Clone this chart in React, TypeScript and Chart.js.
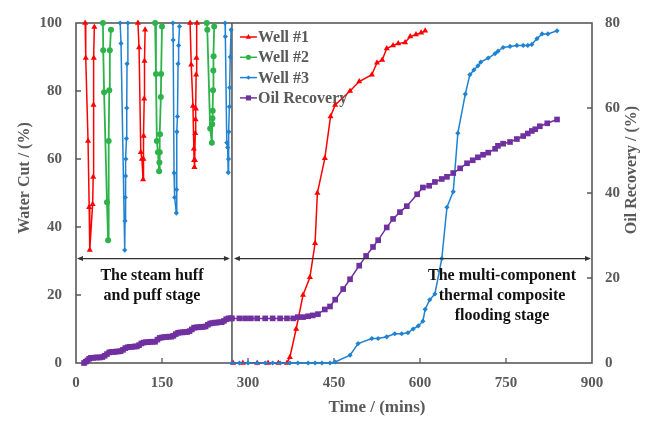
import React, { useEffect, useRef } from 'react';
import { Chart, registerables } from 'chart.js';

Chart.register(...registerables);

// ---- axis ticks ----
const timeTicks = [0, 150, 300, 450, 600, 750, 900];
const waterCutTicks = [0, 20, 40, 60, 80, 100];
const recoveryTicks = [0, 20, 40, 60, 80];

// ---- stage annotations ----
const stageBoundary = 272; // mins
const arrowLevel = 30.7; // water cut %
const stage1Lines = ['The steam huff', 'and puff stage'];
const stage2Lines = ['The multi-component', 'thermal composite', 'flooding stage'];

// ---- Well #1 (water cut %) ----
const well1Time = [
  16, 17, 21, 23, 24, 29, 30, 30.5, 31, 32,
  70,
  108, 110, 113, 115, 117, 117.5, 118, 119, 119.5, 120.5,
  160,
  199, 201, 204, 205.5, 206, 206.5, 207.5, 208, 208.5, 209, 209.5, 210, 211,
  240,
  274, 291, 316, 335, 353, 368, 373, 384, 396, 408, 417, 421, 434, 444, 452, 478, 494, 516, 525, 534,
  542, 553, 562, 574, 583, 593, 602, 609,
];
const well1Cut = [
  100, 89.7, 65.3, 45.8, 33.2, 46.7, 54.7, 75.9, 89.7, 98.8,
  null,
  100, 92.8, 62, 60, 54, 60, 66.8, 77.7, 88.8, 98,
  null,
  100, 87.7, 75.6, 63, 59.6, 57.6, 59.6, 67.6, 71.6, 74.8, 84.8, 89.7, 100,
  null,
  0, 0, 0, 0, 0, 0, 1.7, 10, 20, 25.2, 35.2, 50, 60.2, 72.5, 75.9, 80, 82.8, 84.8, 88.3, 89.1,
  92.5, 93.4, 94, 94.3, 96, 96.6, 97.1, 97.7,
];

// ---- Well #2 (water cut %) ----
const well2Time = [
  47, 47.5, 49, 54, 56, 57, 58, 59, 61,
  100,
  138, 139.5, 141, 143, 145, 145.5, 146, 146.5, 148, 148.5, 150,
  190,
  228, 229, 234, 237, 237.5, 238, 238.5, 239, 239.5, 240, 241,
];
const well2Cut = [
  100, 92, 79.6, 47.3, 36.1, 65.3, 80.2, 92, 98,
  null,
  100, 85, 65.3, 62, 56.4, 59, 62, 67.3, 78.2, 85, 99,
  null,
  100, 98, 69, 64.8, 70.2, 72, 74.2, 80.2, 86, 90.2, 99,
];

// ---- Well #3 (water cut %) ----
const well3Time = [
  77, 78.5, 85, 85.5, 86, 86.5, 87, 88, 88.5, 89, 90.5,
  130,
  169, 169.5, 171, 172, 175, 175.5, 176, 177, 178, 179, 180.5,
  220,
  260, 260.5, 263, 264.5, 265.5, 266, 266.5, 267.5, 268, 269, 270.5,
  271,
  272, 285, 300, 316, 330, 343, 356, 373, 387, 405, 417, 429, 443, 452, 478, 492, 516, 527, 542, 556,
  568, 579, 588, 597, 605, 609, 617, 626, 638, 647, 658, 666, 679, 687, 694, 701, 706, 719, 731, 736,
  745, 757, 769, 780, 788, 795, 804, 813, 823, 839,
];
const well3Cut = [
  100, 94, 33.2, 41.8, 48.7, 55, 60, 66, 75, 88, 100,
  null,
  100, 95, 55.9, 48.7, 44.1, 51, 68, 72.5, 88, 93.4, 99,
  null,
  100, 96, 64.8, 63.4, 56, 60, 68, 75.4, 81, 90, 98,
  null,
  0, 0, 0, 0, 0, 0, 0, 0, 0, 0, 0, 0, 0, 0.3, 2.3, 5.7, 7.2, 7.2, 7.7, 8.6,
  8.6, 8.9, 10, 10.9, 12.3, 15.8, 18.6, 20.3, 30.7, 45.8, 50.4, 67.6, 79.1, 84.8, 86.2, 87.4, 88.5, 89.7, 91, 91.7,
  92.8, 93.1, 93.4, 93.4, 93.4, 93.7, 95.4, 96.8, 96.8, 97.7,
];

// ---- Oil recovery (%) ----
const recoveryTime = [
  14, 17, 20, 23, 26, 30, 34, 38, 42, 46, 50, 54, 58, 62, 66, 70, 74, 78, 82, 86,
  90, 94, 98, 102, 106, 110, 114, 118, 122, 126, 130, 134, 138, 142, 146, 150, 154, 158, 162, 166,
  170, 174, 178, 182, 186, 190, 194, 198, 202, 206, 210, 214, 218, 222, 226, 230, 234, 238, 242, 246,
  250, 254, 258, 262, 266, 270,
  272, 285, 295, 305, 316, 330, 343, 356, 368, 379, 387, 396, 405, 413, 422, 434, 443, 452, 466, 478,
  494, 506, 518, 527, 542, 553, 565, 577, 595, 605, 616, 626, 638, 647, 658, 670, 682, 692, 701, 710,
  719, 731, 736, 745, 757, 769, 780, 788, 795, 801, 809, 822, 839,
];
const recoveryValue = [
  0, 0.3, 0.6, 1.0, 1.2, 1.2, 1.3, 1.3, 1.3, 1.4, 1.7, 2.1, 2.5, 2.6, 2.6, 2.7, 2.7, 2.8, 3.1, 3.5,
  3.7, 3.8, 3.8, 3.9, 3.9, 4.2, 4.6, 4.8, 4.9, 4.9, 5.0, 5.0, 5.0, 5.5, 5.9, 6.0, 6.1, 6.1, 6.2, 6.2,
  6.4, 6.8, 7.1, 7.2, 7.2, 7.3, 7.3, 7.5, 7.9, 8.3, 8.4, 8.4, 8.5, 8.5, 8.6, 9.0, 9.3, 9.4, 9.5, 9.5,
  9.6, 9.6, 9.9, 10.3, 10.5, 10.5,
  10.5, 10.5, 10.5, 10.5, 10.5, 10.5, 10.5, 10.5, 10.5, 10.5, 10.8, 10.8, 11.0, 11.2, 11.5, 12.6, 13.3, 14.9, 17.4, 19.7,
  22.9, 25.2, 27.3, 28.9, 31.9, 33.9, 35.5, 36.9, 39.7, 41.3, 41.7, 42.6, 43.3, 43.8, 44.7, 45.8, 47.0, 47.7, 48.4, 49.0,
  49.5, 50.4, 51.1, 51.6, 52.0, 52.7, 53.4, 54.0, 54.6, 55.0, 55.7, 56.4, 57.3,
];

const seriesNames = ['Well #1', 'Well #2', 'Well #3', 'Oil Recovery'];
const seriesColors = ['#FF0000', '#2DB34A', '#1F82D2', '#7030A0'];

const toPoints = (t: number[], v: (number | null)[]) => t.map((x, i) => ({ x, y: v[i] }));

const FONT = '"Liberation Serif", "Times New Roman", serif';
const GRAY = '#595959';

function drawMarker(ctx: CanvasRenderingContext2D, style: string, x: number, y: number, r: number, color: string) {
  ctx.save();
  ctx.fillStyle = color;
  ctx.beginPath();
  if (style === 'triangle') {
    ctx.moveTo(x, y - r);
    ctx.lineTo(x + r * 0.9, y + r * 0.6);
    ctx.lineTo(x - r * 0.9, y + r * 0.6);
    ctx.closePath();
  } else if (style === 'circle') {
    ctx.arc(x, y, r, 0, Math.PI * 2);
  } else if (style === 'rectRot') {
    ctx.moveTo(x, y - r);
    ctx.lineTo(x + r, y);
    ctx.lineTo(x, y + r);
    ctx.lineTo(x - r, y);
    ctx.closePath();
  } else {
    ctx.rect(x - r * 0.75, y - r * 0.75, r * 1.5, r * 1.5);
  }
  ctx.fill();
  ctx.restore();
}

const markerStyles = ['triangle', 'circle', 'rectRot', 'rect'];
const markerSizes = [3.5, 3, 2.6, 4];

const decorPlugin = {
  id: 'decor',
  beforeDatasetsDraw(chart: any) {
    const { ctx, chartArea: a, scales } = chart;
    const xs = scales.x;
    const yl = scales.y;
    const yr = scales.y2;
    ctx.save();
    ctx.strokeStyle = GRAY;
    ctx.lineWidth = 1.6;
    ctx.strokeRect(a.left, a.top, a.right - a.left, a.bottom - a.top);
    // divider
    const dx = xs.getPixelForValue(stageBoundary);
    ctx.beginPath();
    ctx.moveTo(dx, a.top);
    ctx.lineTo(dx, a.bottom);
    ctx.stroke();
    // inward ticks
    ctx.lineWidth = 1.3;
    ctx.beginPath();
    timeTicks.forEach((v) => {
      if (v <= 0 || v >= 900) return;
      const px = xs.getPixelForValue(v);
      ctx.moveTo(px, a.bottom);
      ctx.lineTo(px, a.bottom - 5);
    });
    waterCutTicks.forEach((v) => {
      if (v <= 0 || v >= 100) return;
      const py = yl.getPixelForValue(v);
      ctx.moveTo(a.left, py);
      ctx.lineTo(a.left + 5, py);
    });
    recoveryTicks.forEach((v) => {
      if (v <= 0 || v >= 80) return;
      const py = yr.getPixelForValue(v);
      ctx.moveTo(a.right, py);
      ctx.lineTo(a.right - 5, py);
    });
    ctx.stroke();
    ctx.restore();
  },
  afterDatasetsDraw(chart: any) {
    const { ctx, chartArea: a, scales } = chart;
    const xs = scales.x;
    const yl = scales.y;
    const dx = xs.getPixelForValue(stageBoundary);
    const ay = yl.getPixelForValue(arrowLevel);
    ctx.save();
    // arrows
    ctx.strokeStyle = '#333333';
    ctx.fillStyle = '#333333';
    ctx.lineWidth = 1.4;
    const arrow = (x1: number, x2: number) => {
      ctx.beginPath();
      ctx.moveTo(x1 + 2, ay);
      ctx.lineTo(x2 - 2, ay);
      ctx.stroke();
      ctx.beginPath();
      ctx.moveTo(x1, ay);
      ctx.lineTo(x1 + 6, ay - 2.5);
      ctx.lineTo(x1 + 6, ay + 2.5);
      ctx.closePath();
      ctx.fill();
      ctx.beginPath();
      ctx.moveTo(x2, ay);
      ctx.lineTo(x2 - 6, ay - 2.5);
      ctx.lineTo(x2 - 6, ay + 2.5);
      ctx.closePath();
      ctx.fill();
    };
    arrow(a.left + 1, dx - 2);
    arrow(dx + 2, a.right - 1);

    // stage texts
    ctx.fillStyle = '#111111';
    ctx.font = `bold 16px ${FONT}`;
    ctx.textAlign = 'center';
    ctx.textBaseline = 'middle';
    const c1 = (a.left + dx) / 2 - 2;
    stage1Lines.forEach((s, i) => ctx.fillText(s, c1, ay + 17 + i * 20));
    const c2 = a.right - 90;
    stage2Lines.forEach((s, i) => ctx.fillText(s, c2, ay + 17 + i * 20));

    // legend
    ctx.textAlign = 'left';
    ctx.font = `bold 16px ${FONT}`;
    seriesNames.forEach((name, i) => {
      const y = a.top + 14 + i * 20.3;
      const x0 = dx + 8;
      ctx.strokeStyle = seriesColors[i];
      ctx.lineWidth = 1.5;
      ctx.beginPath();
      ctx.moveTo(x0, y);
      ctx.lineTo(x0 + 17, y);
      ctx.stroke();
      drawMarker(ctx, markerStyles[i], x0 + 8.5, y, markerSizes[i] * 0.85, seriesColors[i]);
      ctx.fillStyle = GRAY;
      ctx.fillText(name, x0 + 18, y + 1);
    });

    // axis titles
    ctx.fillStyle = GRAY;
    ctx.font = `bold 16px ${FONT}`;
    ctx.textAlign = 'center';
    ctx.textBaseline = 'middle';
    ctx.save();
    ctx.translate(25, 178);
    ctx.rotate(-Math.PI / 2);
    ctx.fillText('Water Cut / (%)', 0, 0);
    ctx.restore();
    ctx.save();
    ctx.translate(632, 170);
    ctx.rotate(-Math.PI / 2);
    ctx.fillText('Oil Recovery / (%)', 0, 0);
    ctx.restore();
    ctx.font = `bold 17px ${FONT}`;
    ctx.fillText('Time / (mins)', 377, 408);
    ctx.restore();
  },
};

export default function App() {
  const ref = useRef<HTMLCanvasElement | null>(null);

  useEffect(() => {
    document.body.style.margin = '0';
    if (!ref.current) return;
    Chart.defaults.font.family = FONT;
    const lineDs = (i: number, data: any[], axis: string, width: number) => ({
      label: seriesNames[i],
      data,
      yAxisID: axis,
      borderColor: seriesColors[i],
      backgroundColor: seriesColors[i],
      borderWidth: width,
      pointStyle: markerStyles[i],
      pointRadius: markerSizes[i],
      pointBorderWidth: 0,
      pointHoverRadius: markerSizes[i],
      spanGaps: false,
      tension: 0,
      clip: false as any,
    });
    const chart = new Chart(ref.current, {
      type: 'line',
      data: {
        datasets: [
          lineDs(3, toPoints(recoveryTime, recoveryValue), 'y2', 1.5),
          lineDs(2, toPoints(well3Time, well3Cut), 'y', 1.5),
          lineDs(1, toPoints(well2Time, well2Cut), 'y', 1.8),
          lineDs(0, toPoints(well1Time, well1Cut), 'y', 1.5),
        ],
      },
      options: {
        animation: false,
        responsive: false,
        devicePixelRatio: 1,
        parsing: true as any,
        layout: { padding: { top: 14, left: 0, right: 0, bottom: 0 } },
        plugins: { legend: { display: false }, tooltip: { enabled: false } },
        scales: {
          x: {
            type: 'linear',
            min: 0,
            max: 900,
            afterBuildTicks: (s: any) => { s.ticks = timeTicks.map((v) => ({ value: v })); },
            afterFit: (s: any) => { s.height = 60; },
            grid: { display: false, drawTicks: false },
            border: { display: false },
            ticks: { padding: 11, color: GRAY, font: { size: 15, weight: 'bold' }, maxRotation: 0 },
          },
          y: {
            type: 'linear',
            position: 'left',
            min: 0,
            max: 100,
            afterBuildTicks: (s: any) => { s.ticks = waterCutTicks.map((v) => ({ value: v })); },
            afterFit: (s: any) => { s.width = 76; },
            grid: { display: false, drawTicks: false },
            border: { display: false },
            ticks: { padding: 14, color: GRAY, font: { size: 15, weight: 'bold' } },
          },
          y2: {
            type: 'linear',
            position: 'right',
            min: 0,
            max: 80,
            afterBuildTicks: (s: any) => { s.ticks = recoveryTicks.map((v) => ({ value: v })); },
            afterFit: (s: any) => { s.width = 65; },
            grid: { display: false, drawTicks: false },
            border: { display: false },
            ticks: { padding: 13, color: GRAY, font: { size: 15, weight: 'bold' } },
          },
        },
      } as any,
      plugins: [decorPlugin],
    });
    return () => chart.destroy();
  }, []);

  return (
    <div style={{ width: 657, height: 423, background: '#ffffff' }}>
      <canvas ref={ref} width={657} height={423} style={{ display: 'block' }} />
    </div>
  );
}
